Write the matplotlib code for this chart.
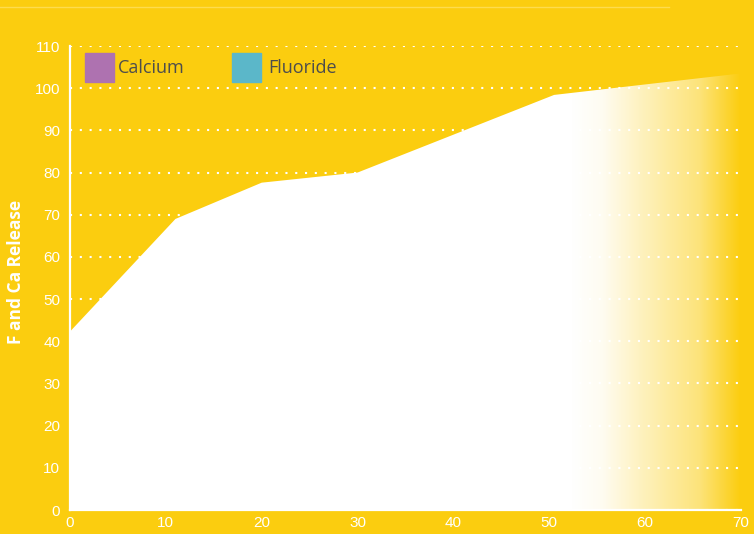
import numpy as np
import matplotlib
matplotlib.use("Agg")
import matplotlib.pyplot as plt
from matplotlib.patches import Rectangle

# data
days = [0, 11, 20, 30, 50.5, 70]
release = [42.3, 69, 77.6, 80, 98.4, 103.5]
legend_names = ["Calcium", "Fluoride"]
legend_colors = ["#AE72B0", "#5BB7C9"]
yticks = list(range(0, 111, 10))
xticks = list(range(0, 71, 10))

bg = "#FBCD0F"

fig = plt.figure(figsize=(7.54, 5.34), dpi=100, facecolor=bg)
ax = fig.add_axes([70 / 754, 24 / 534, 671 / 754, 464 / 534])
ax.set_facecolor(bg)

# white area, faded to the background on the right
poly = ax.fill_between(days, release, 0, color="none", lw=0, zorder=2)
xs = np.linspace(0, 70, 1400)
alpha = np.interp(xs, [52.5, 55.5, 59.5, 65.7, 70], [1, 0.95, 0.74, 0.45, 0])
img = np.ones((2, len(xs), 4))
img[:, :, 3] = alpha
im = ax.imshow(img, extent=[0, 70, 0, 110], aspect="auto", zorder=2,
               interpolation="bilinear")
path = poly.get_paths()[0]
im.set_clip_path(path, transform=ax.transData)

ax.set_xlim(0, 70)
ax.set_ylim(0, 110)
ax.set_xticks(xticks)
ax.set_yticks(yticks)
ax.yaxis.grid(True, color="white", lw=1.5, linestyle=(0, (1, 3.7)), zorder=1)
ax.set_axisbelow(True)

for s in ["top", "right"]:
    ax.spines[s].set_visible(False)
for s in ["left", "bottom"]:
    ax.spines[s].set_color("white")
    ax.spines[s].set_linewidth(1.6)
    ax.spines[s].set_zorder(3)

ax.tick_params(length=0, colors="white", labelsize=11)
ax.tick_params(axis="y", pad=7)
ax.tick_params(axis="x", pad=4)
for lab in ax.get_xticklabels() + ax.get_yticklabels():
    lab.set_family("Liberation Sans")

ax.set_ylabel("F and Ca Release", color="white", fontsize=12.5,
              fontweight="bold", family="Open Sans")
ax.yaxis.set_label_coords(-45 / 671, 0.513)

# legend squares and names
sq_x = [85, 232]
txt_x = [118, 268]
for name, c, sx, tx in zip(legend_names, legend_colors, sq_x, txt_x):
    fig.patches.append(Rectangle((sx / 754, (534 - 82) / 534), 29 / 754, 29 / 534,
                                 transform=fig.transFigure, color=c, zorder=5))
    fig.text(tx / 754, (534 - 68) / 534, name, color="#4D4D4D", fontsize=13,
             family="Open Sans", va="center", ha="left")

# thin line at the top
fig.add_artist(plt.Line2D([0, 669 / 754], [1 - 7 / 534, 1 - 7 / 534],
                          transform=fig.transFigure, color="#FDDC4E", lw=1))

fig.savefig("out.png", dpi=100, facecolor=bg)
